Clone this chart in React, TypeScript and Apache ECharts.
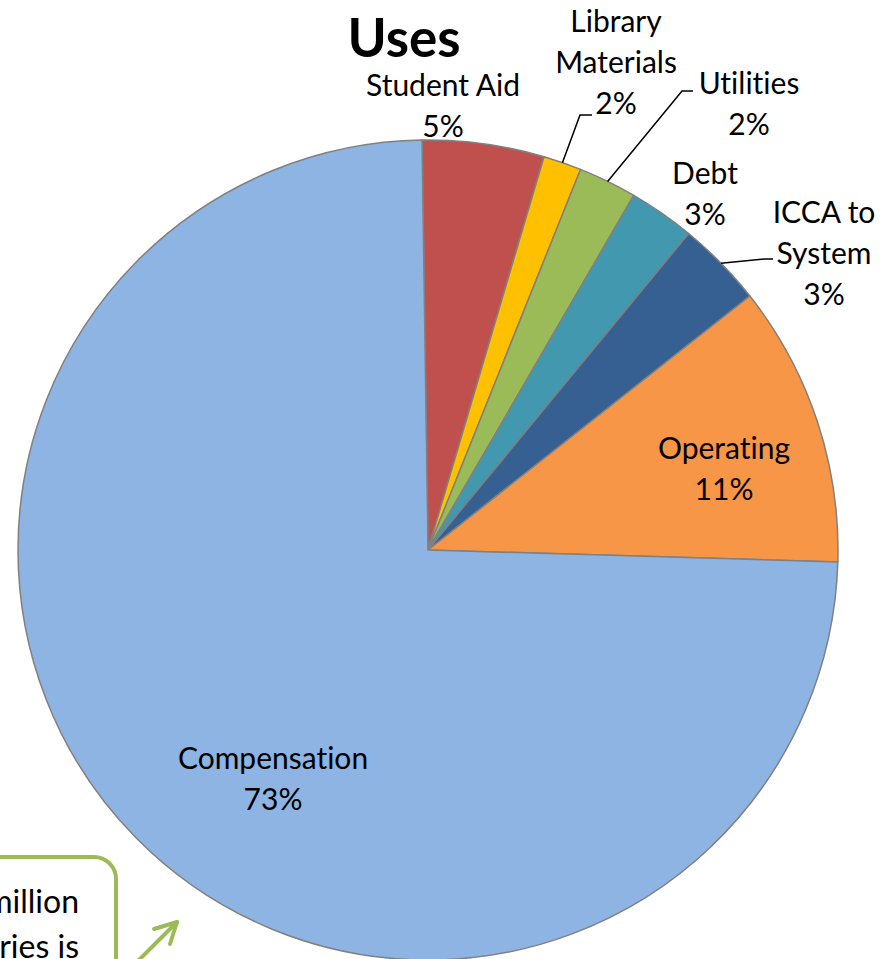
import React, { useEffect, useRef } from "react";
import * as echarts from "echarts";

const categories = ["Student Aid", "Library Materials", "Utilities", "Debt", "ICCA to System", "Operating", "Compensation"];
const values = [4.8, 1.5, 2.3, 2.6, 3.4, 11.1, 74.3];
const pctLabels = ["5%", "2%", "2%", "3%", "3%", "11%", "73%"];
const labelNames = ["Student Aid", "Library\nMaterials", "Utilities", "Debt", "ICCA to\nSystem", "Operating", "Compensation"];
const colors = ["#C0504D", "#FFC000", "#9BBB59", "#4198AF", "#376092", "#F79646", "#8EB4E3"];

// layout constants
const CX = 428;
const CY = 550;
const R = 410;
const START_OFFSET = -0.84; // degrees from 12 o'clock, clockwise positive
const labelPos: [number, number][] = [
  [443, 104],
  [616, 61],
  [749, 102],
  [705, 192],
  [824, 252],
  [724, 467],
  [273, 777],
];
const leaderElbows: Record<number, [number, number][]> = {
  1: [[580, 115], [592, 115]],
  2: [[682, 91], [693, 91]],
  4: [[765, 259], [773, 259]],
};

function midAnchor(i: number): [number, number] {
  const total = values.reduce((a, b) => a + b, 0);
  let cum = 0;
  for (let k = 0; k < i; k++) cum += values[k];
  const mid = START_OFFSET + ((cum + values[i] / 2) / total) * 360;
  const rad = (mid * Math.PI) / 180;
  return [CX + R * Math.sin(rad), CY - R * Math.cos(rad)];
}

export default function App() {
  const ref = useRef<HTMLDivElement>(null);
  useEffect(() => {
    if (!ref.current) return;
    const chart = echarts.init(ref.current, null, { renderer: "svg" });
    const font = "Lato";
    const leaderGraphics = Object.keys(leaderElbows).map((k) => {
      const i = Number(k);
      return {
        type: "polyline",
        shape: { points: [midAnchor(i), ...leaderElbows[i]] },
        style: { stroke: "#000", lineWidth: 1.5, fill: "none" },
        z: 10,
      };
    });
    chart.setOption({
      animation: false,
      backgroundColor: "#ffffff",
      series: [
        {
          type: "pie",
          center: [CX, CY],
          radius: R,
          startAngle: 90 - START_OFFSET,
          clockwise: true,
          avoidLabelOverlap: false,
          data: categories.map((c, i) => ({
            name: c,
            value: values[i],
            itemStyle: { color: colors[i] },
          })),
          itemStyle: { borderColor: "#808080", borderWidth: 1.5 },
          label: {
            show: true,
            position: "outside",
            formatter: (p: any) => labelNames[p.dataIndex] + "\n" + pctLabels[p.dataIndex],
            fontFamily: font,
            fontSize: 30,
            lineHeight: 41,
            color: "#000",
            align: "center",
          },
          labelLine: { show: false },
          labelLayout: (p: any) => ({
            x: labelPos[p.dataIndex][0],
            y: labelPos[p.dataIndex][1],
            align: "center",
            verticalAlign: "middle",
          }),
          emphasis: { disabled: true },
        },
      ],
      graphic: [
        {
          type: "text",
          x: 404,
          y: 36,
          style: {
            text: "Uses",
            fontFamily: font,
            fontWeight: "bold",
            fontSize: 53,
            fill: "#000",
            align: "center",
            verticalAlign: "middle",
          },
        },
        ...leaderGraphics,
        {
          type: "rect",
          shape: { x: -60, y: 857, width: 176, height: 160, r: 22 },
          style: { fill: "#fff", stroke: "#9BBB59", lineWidth: 4 },
          z: 5,
        },
        {
          type: "text",
          x: 79,
          y: 900,
          style: { text: "million", fontFamily: font, fontSize: 32, fill: "#000", align: "right", verticalAlign: "middle" },
          z: 6,
        },
        {
          type: "text",
          x: 79,
          y: 945,
          style: { text: "ries is", fontFamily: font, fontSize: 32, fill: "#000", align: "right", verticalAlign: "middle" },
          z: 6,
        },
        {
          type: "polyline",
          shape: { points: [[136, 963], [177, 922]] },
          style: { stroke: "#9BBB59", lineWidth: 4, fill: "none", lineCap: "round" },
          z: 6,
        },
        {
          type: "polyline",
          shape: { points: [[154, 929], [177, 922], [170, 944]] },
          style: { stroke: "#9BBB59", lineWidth: 4, fill: "none", lineCap: "round", lineJoin: "round" },
          z: 6,
        },
      ],
    });
    return () => chart.dispose();
  }, []);
  return (
    <div
      ref={ref}
      style={{ position: "absolute", left: 0, top: 0, width: 892, height: 959, fontVariantLigatures: "none" }}
    />
  );
}
